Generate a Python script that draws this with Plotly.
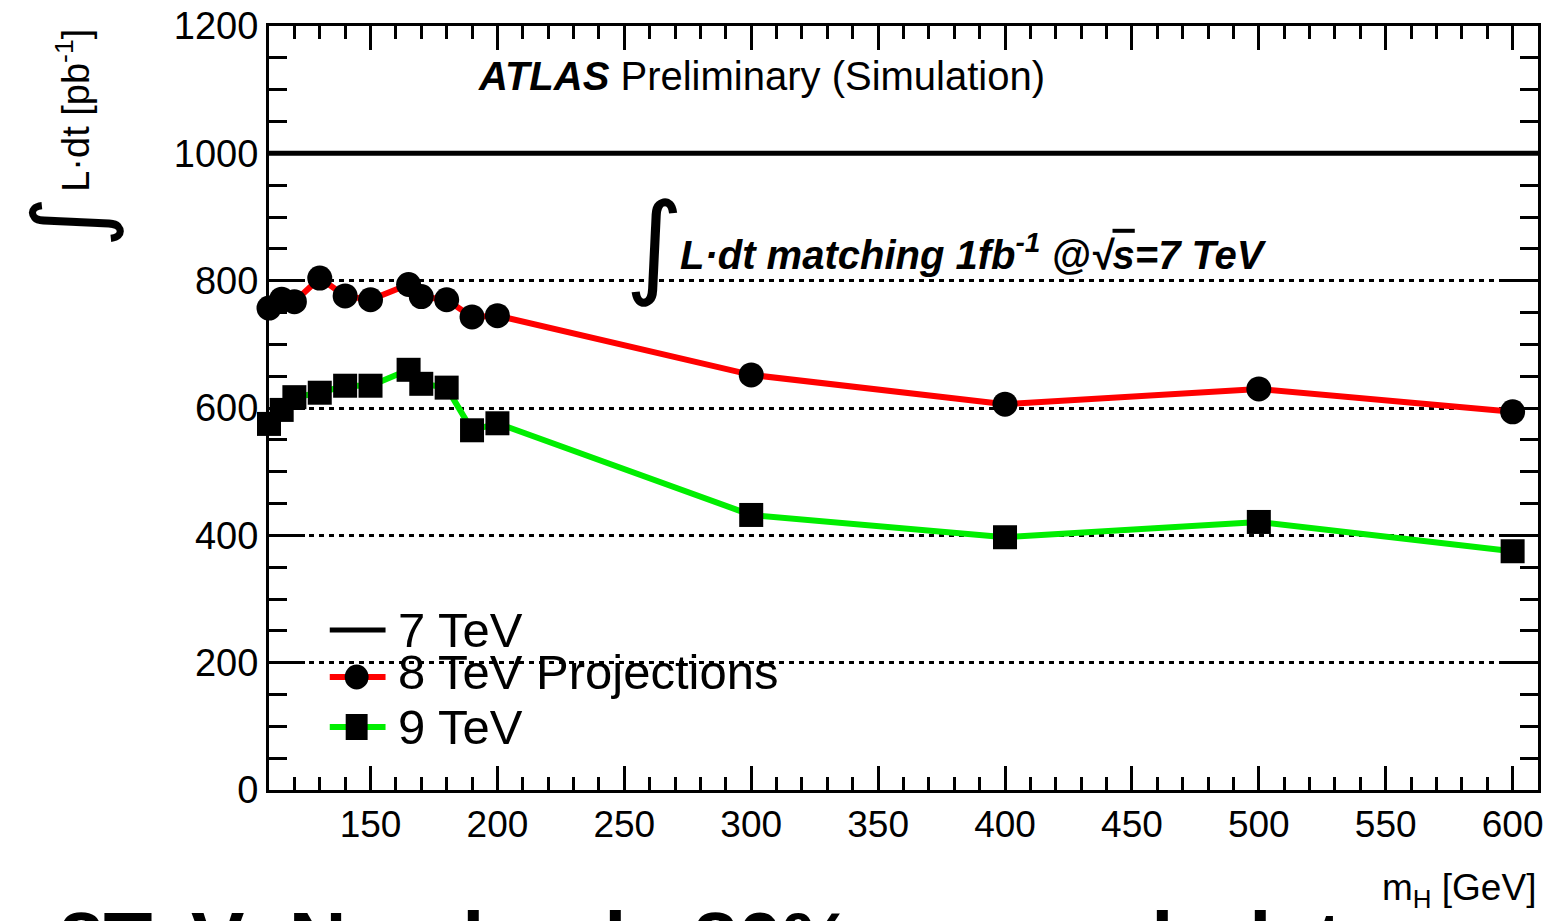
import plotly.graph_objects as go

# Higgs mass points [GeV]
mass_gev = [110, 115, 120, 130, 140, 150, 165, 170, 180, 190, 200, 300, 400, 500, 600]
# Integrated luminosity [pb^-1] needed to match 1 fb^-1 at sqrt(s)=7 TeV
lumi_8tev = [757, 771, 767, 804, 776, 770, 794, 775, 770, 743, 745, 652, 606, 630, 594]
lumi_9tev = [575, 597, 617, 624, 635, 635, 660, 638, 632, 565, 576, 432, 397, 421, 375]
# 7 TeV reference: 1 fb^-1
lumi_7tev = 1000

x_range = [110, 610]
y_range = [0, 1200]

W, H = 1548, 921
L, R, T, B = 269, 5, 26, 131
PW, PH = W - L - R, H - T - B

FONT = "Liberation Sans, Arial, Helvetica, sans-serif"


def px(xp):
    return (xp - L) / PW


def py(yp):
    return (H - B - yp) / PH


fig = go.Figure()

fig.add_trace(go.Scatter(
    x=x_range, y=[lumi_7tev, lumi_7tev], mode="lines",
    line=dict(color="black", width=5), showlegend=False, cliponaxis=False,
))
fig.add_trace(go.Scatter(
    x=mass_gev, y=lumi_9tev, mode="lines+markers",
    line=dict(color="#00ee00", width=6),
    marker=dict(symbol="square", size=24, color="black", line=dict(width=0)),
    showlegend=False, cliponaxis=False,
))
fig.add_trace(go.Scatter(
    x=mass_gev, y=lumi_8tev, mode="lines+markers",
    line=dict(color="#ff0000", width=6),
    marker=dict(symbol="circle", size=25, color="black", line=dict(width=0)),
    showlegend=False, cliponaxis=False,
))

axis_common = dict(
    showline=True, linecolor="black", linewidth=3, mirror="allticks",
    ticks="inside", tickcolor="black", tickwidth=3,
    zeroline=False, color="black",
)

fig.update_xaxes(
    range=x_range, tickmode="array", tickvals=[150, 200, 250, 300, 350, 400, 450, 500, 550, 600],
    ticklen=24, showgrid=False,
    minor=dict(ticks="inside", dtick=10, tick0=0, ticklen=13, tickwidth=3, tickcolor="black", showgrid=False),
    tickfont=dict(family=FONT, size=37, color="black"), ticklabelstandoff=0,
    **axis_common,
)
fig.update_yaxes(
    range=y_range, tickmode="linear", tick0=0, dtick=200,
    ticklen=36, showgrid=True, gridcolor="black", gridwidth=3, griddash="5px,5px",
    minor=dict(ticks="inside", dtick=50, ticklen=18, tickwidth=3, tickcolor="black", showgrid=False),
    tickfont=dict(family=FONT, size=38, color="black"), ticklabelstandoff=0,
    **axis_common,
)

ann = []
# header
ann.append(dict(
    x=px(477), y=py(76), xref="paper", yref="paper", xanchor="left", yanchor="middle",
    text="<b><i>ATLAS</i></b> Preliminary (Simulation)", showarrow=False,
    font=dict(family=FONT, size=40, color="black"),
))
# matching text
ann.append(dict(
    x=px(656), y=py(244), xref="paper", yref="paper", xanchor="center", yanchor="middle",
    text="∫", showarrow=False, font=dict(family="DejaVu Sans, " + FONT, size=112, color="black"),
))
ann.append(dict(
    x=px(680), y=py(252), xref="paper", yref="paper", xanchor="left", yanchor="middle",
    text="<b><i>L·dt matching 1fb<sup>-1</sup> @√<span style='text-decoration:overline'>s</span>=7 TeV</i></b>",
    showarrow=False, font=dict(family=FONT, size=40, color="black"),
))
# y-axis title
ann.append(dict(
    x=px(72), y=py(110), xref="paper", yref="paper", xanchor="center", yanchor="middle",
    text="L·dt [pb<sup>-1</sup>]", textangle=-90, showarrow=False,
    font=dict(family=FONT, size=38, color="black"),
))
ann.append(dict(
    x=px(68), y=py(222), xref="paper", yref="paper", xanchor="center", yanchor="middle",
    text="∫", textangle=-90, showarrow=False,
    font=dict(family="DejaVu Sans, " + FONT, size=98, color="black"),
))
# x-axis title
ann.append(dict(
    x=1.0, y=py(890), xref="paper", yref="paper", xanchor="right", yanchor="middle",
    text="m<sub>H</sub> [GeV]", showarrow=False,
    font=dict(family=FONT, size=37, color="black"),
))
# slide caption below
ann.append(dict(
    x=px(56), y=py(894), xref="paper", yref="paper", xanchor="left", yanchor="top",
    text="<b>8TeV: Need only 80% as much data</b>", showarrow=False,
    font=dict(family=FONT, size=80, color="black"),
))

# legend
shapes = []
legend_rows = [
    ("7 TeV", 630, 630, "black", None),
    ("8 TeV Projections", 677, 672, "#ff0000", "circle"),
    ("9 TeV", 727, 727, "#00ee00", "square"),
]
for label, ly, ty, color, sym in legend_rows:
    shapes.append(dict(
        type="line", xref="paper", yref="paper",
        x0=px(330), x1=px(386), y0=py(ly), y1=py(ly),
        line=dict(color=color, width=5 if sym is None else 6),
    ))
    if sym == "circle":
        shapes.append(dict(
            type="circle", xref="paper", yref="paper",
            x0=px(357 - 12), x1=px(357 + 12), y0=py(ly - 12.5), y1=py(ly + 12.5),
            fillcolor="black", line=dict(width=0),
        ))
    elif sym == "square":
        shapes.append(dict(
            type="rect", xref="paper", yref="paper",
            x0=px(357 - 11), x1=px(357 + 11), y0=py(ly - 13), y1=py(ly + 13),
            fillcolor="black", line=dict(width=0),
        ))
    ann.append(dict(
        x=px(396), y=py(ty), xref="paper", yref="paper", xanchor="left", yanchor="middle",
        text=label, showarrow=False, font=dict(family=FONT, size=49, color="black"),
    ))

fig.update_layout(
    width=W, height=H, autosize=False,
    margin=dict(l=L, r=R, t=T, b=B, pad=0),
    paper_bgcolor="white", plot_bgcolor="white",
    annotations=ann, shapes=shapes, showlegend=False,
    font=dict(family=FONT, color="black"),
)

fig.write_html("out.html")
